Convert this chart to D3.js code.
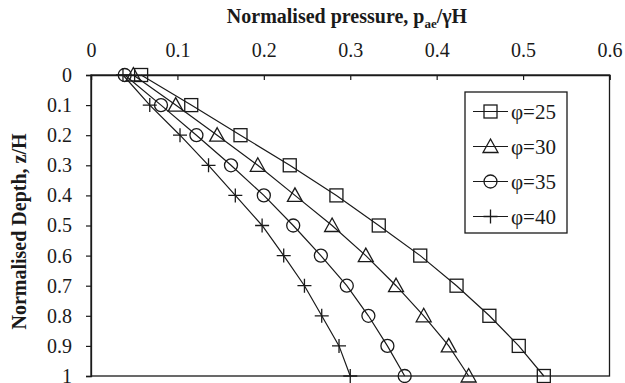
<!DOCTYPE html>
<html>
<head>
<meta charset="utf-8">
<script src="https://cdn.jsdelivr.net/npm/d3@7"></script>
<style>
  body { margin: 0; background: #fff; }
  svg { display: block; font-family: "Liberation Serif", "Times New Roman", serif; }
</style>
</head>
<body>
<svg id="chart" width="625" height="383"></svg>
<script>
// depth values (z/H) shared by every series
const depths = [0, 0.1, 0.2, 0.3, 0.4, 0.5, 0.6, 0.7, 0.8, 0.9, 1.0];

// normalised pressure, one list per friction angle
const phi25 = [0.058, 0.116, 0.173, 0.230, 0.284, 0.333, 0.381, 0.423, 0.461, 0.495, 0.524];
const phi30 = [0.049, 0.098, 0.146, 0.193, 0.236, 0.279, 0.318, 0.353, 0.385, 0.414, 0.437];
const phi35 = [0.039, 0.081, 0.122, 0.162, 0.200, 0.234, 0.266, 0.296, 0.321, 0.343, 0.363];
const phi40 = [0.037, 0.068, 0.103, 0.136, 0.167, 0.198, 0.223, 0.247, 0.267, 0.287, 0.300];

const seriesNames = ['φ=25', 'φ=30', 'φ=35', 'φ=40'];
const markerTypes = ['square', 'triangle', 'circle', 'plus'];
const xTickValues = [0, 0.1, 0.2, 0.3, 0.4, 0.5, 0.6];
const yTickValues = [0, 0.1, 0.2, 0.3, 0.4, 0.5, 0.6, 0.7, 0.8, 0.9, 1];

const series = [phi25, phi30, phi35, phi40].map((vals, i) => ({
    name: seriesNames[i],
    marker: markerTypes[i],
    points: vals.map((v, j) => ({ x: v, y: depths[j] }))
}));

const svg = d3.select('#chart');
const ink = '#1a1a1a';
const serif = '"Liberation Serif", "Times New Roman", serif';

const x = d3.scaleLinear().domain([0, 0.6]).range([91, 609.5]);
const y = d3.scaleLinear().domain([0, 1]).range([75, 376]);

// plot frame (right and bottom edges)
svg.append('rect')
    .attr('x', x(0)).attr('y', y(0))
    .attr('width', x(0.6) - x(0)).attr('height', y(1) - y(0))
    .attr('fill', 'none').attr('stroke', ink).attr('stroke-width', 1.3);

// top axis, ticks pointing into the plot
const xAxis = svg.append('g')
    .attr('transform', `translate(0,${y(0)})`)
    .call(d3.axisTop(x).tickValues(xTickValues).tickSize(-5).tickPadding(18)
        .tickFormat(d => d === 0 ? '0' : d3.format('.1f')(d)));
xAxis.select('.domain').attr('stroke', ink).attr('stroke-width', 1.3);
xAxis.selectAll('.tick line').attr('stroke', ink).attr('stroke-width', 1.2);
xAxis.selectAll('.tick text').attr('font-size', 20).attr('fill', ink)
    .attr('font-family', serif);

// left axis, ticks pointing out
const yAxis = svg.append('g')
    .attr('transform', `translate(${x(0)},0)`)
    .call(d3.axisLeft(y).tickValues(yTickValues).tickSize(5).tickPadding(14)
        .tickFormat(d => (d === 0 || d === 1) ? String(d) : d3.format('.1f')(d)));
yAxis.select('.domain').attr('stroke', ink).attr('stroke-width', 1.3);
yAxis.selectAll('.tick line').attr('stroke', ink).attr('stroke-width', 1.2);
yAxis.selectAll('.tick text').attr('font-size', 20).attr('fill', ink)
    .attr('font-family', serif);

// axis titles
const xTitle = svg.append('text')
    .attr('x', 347).attr('y', 23)
    .attr('text-anchor', 'middle')
    .attr('font-size', 20).attr('font-weight', 'bold').attr('fill', ink);
xTitle.append('tspan').text('Normalised pressure, p');
xTitle.append('tspan').text('ae').attr('font-size', 13).attr('dy', 5);
xTitle.append('tspan').text('/γH').attr('dy', -5);

svg.append('text')
    .attr('transform', `translate(26,${(y(0) + y(1)) / 2 + 6}) rotate(-90)`)
    .attr('text-anchor', 'middle')
    .attr('font-size', 20).attr('font-weight', 'bold').attr('fill', ink)
    .text('Normalised Depth, z/H');

// marker drawing helper
function drawMarker(g, type, cx, cy) {
    const s = 6.5;
    if (type === 'square') {
        g.append('rect').attr('x', cx - s).attr('y', cy - s)
            .attr('width', 2 * s).attr('height', 2 * s);
    } else if (type === 'triangle') {
        g.append('path').attr('d', `M${cx},${cy - 7.5}L${cx + 7.5},${cy + 6}L${cx - 7.5},${cy + 6}Z`);
    } else if (type === 'circle') {
        g.append('circle').attr('cx', cx).attr('cy', cy).attr('r', 6.5);
    } else {
        g.append('path').attr('d', `M${cx - 7},${cy}H${cx + 7}M${cx},${cy - 7}V${cy + 7}`);
    }
}

const line = d3.line().x(d => x(d.x)).y(d => y(d.y));

series.forEach(s => {
    svg.append('path')
        .datum(s.points)
        .attr('d', line)
        .attr('fill', 'none').attr('stroke', ink).attr('stroke-width', 1.2);
    const g = svg.append('g')
        .attr('fill', 'none').attr('stroke', ink).attr('stroke-width', 1.3);
    s.points.forEach(p => drawMarker(g, s.marker, x(p.x), y(p.y)));
});

// legend
const legend = svg.append('g');
legend.append('rect')
    .attr('x', 465).attr('y', 92).attr('width', 102).attr('height', 141)
    .attr('fill', '#fff').attr('stroke', ink).attr('stroke-width', 1.3);

series.forEach((s, i) => {
    const ly = 111.5 + i * 35;
    legend.append('line')
        .attr('x1', 473).attr('x2', 508).attr('y1', ly).attr('y2', ly)
        .attr('stroke', ink).attr('stroke-width', 1.2);
    const g = legend.append('g')
        .attr('fill', 'none').attr('stroke', ink).attr('stroke-width', 1.3);
    drawMarker(g, s.marker, 490.5, ly);
    legend.append('text')
        .attr('x', 511).attr('y', ly + 7)
        .attr('font-size', 21).attr('fill', ink)
        .attr('font-family', serif)
        .text(s.name);
});
</script>
</body>
</html>
